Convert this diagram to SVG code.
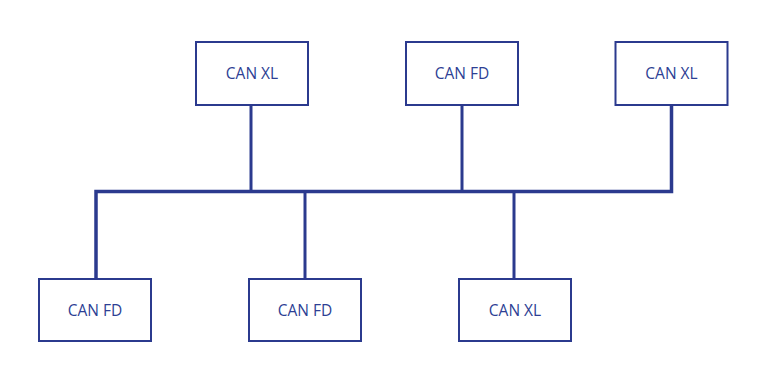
<svg xmlns="http://www.w3.org/2000/svg" width="768" height="384" viewBox="0 0 768 384">
<style>
.box{fill:#fff;stroke:#2b3a8e;stroke-width:2}
.lbl{font-family:"Open Sans","Liberation Sans",sans-serif;font-size:15.5px;fill:#2e3f94;text-anchor:middle;dominant-baseline:central}
.wire{stroke:#2b3a8e;stroke-width:3;fill:none}
.bus{stroke:#2b3a8e;stroke-width:3.5;fill:none}
</style>
<rect width="768" height="384" fill="#fff"/>
<g id="connectors">
<path class="bus" d="M96 279 V191.5 H671.5 V105"/>
<path class="wire" d="M251 105 V191"/>
<path class="wire" d="M462 105 V191"/>
<path class="wire" d="M305 191 V279"/>
<path class="wire" d="M514 191 V279"/>
</g>
<g id="n1"><rect class="box" x="196" y="42" width="112" height="63"/><text class="lbl" x="252" y="73">CAN XL</text></g>
<g id="n2"><rect class="box" x="406" y="42" width="112" height="63"/><text class="lbl" x="462" y="73">CAN FD</text></g>
<g id="n3"><rect class="box" x="615.5" y="42" width="112" height="63"/><text class="lbl" x="671.5" y="73">CAN XL</text></g>
<g id="n4"><rect class="box" x="39" y="279" width="112" height="62"/><text class="lbl" x="95" y="309.5">CAN FD</text></g>
<g id="n5"><rect class="box" x="249" y="279" width="112" height="62"/><text class="lbl" x="305" y="309.5">CAN FD</text></g>
<g id="n6"><rect class="box" x="459" y="279" width="112" height="62"/><text class="lbl" x="515" y="309.5">CAN XL</text></g>
</svg>
